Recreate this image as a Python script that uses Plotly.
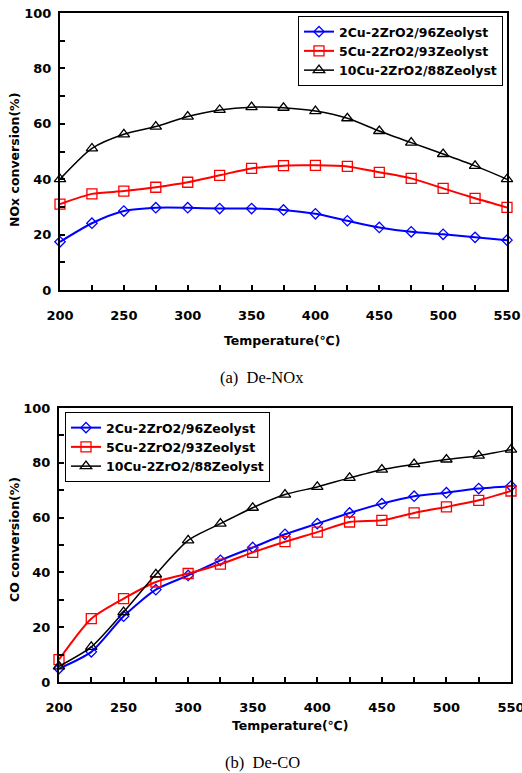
import plotly.graph_objects as go

temps = [200, 225, 250, 275, 300, 325, 350, 375, 400, 425, 450, 475, 500, 525, 550]
series_names = ["2Cu-2ZrO2/96Zeolyst", "5Cu-2ZrO2/93Zeolyst", "10Cu-2ZrO2/88Zeolyst"]

nox_2cu = [17.4, 24.1, 28.5, 29.7, 29.7, 29.4, 29.4, 28.9, 27.5, 25.0, 22.6, 21.0, 20.1, 19.0, 18.0]
nox_5cu = [31.0, 34.7, 35.7, 37.1, 38.9, 41.4, 43.9, 44.9, 45.0, 44.6, 42.5, 40.3, 36.7, 33.1, 29.8]
nox_10cu = [40.0, 51.1, 56.2, 59.0, 62.6, 65.0, 66.0, 65.8, 64.6, 62.0, 57.4, 53.2, 49.1, 44.8, 40.0]

co_2cu = [4.9, 11.0, 24.0, 33.7, 38.9, 44.4, 49.1, 53.9, 57.8, 61.7, 65.1, 67.8, 69.1, 70.6, 71.5]
co_5cu = [8.2, 23.1, 30.4, 36.5, 39.6, 43.0, 47.3, 51.2, 54.7, 58.4, 59.0, 61.7, 63.9, 66.3, 69.7]
co_10cu = [5.7, 12.8, 25.5, 39.3, 51.7, 57.8, 63.6, 68.4, 71.2, 74.5, 77.5, 79.5, 81.2, 82.6, 84.8]

x_tickvals = list(range(200, 551, 25))
x_ticktext = [str(v) if v % 50 == 0 else "" for v in x_tickvals]
y_tickvals = list(range(0, 101, 10))
y_ticktext = [str(v) if v % 20 == 0 else "" for v in y_tickvals]

styles = [
    dict(color="#0000ff", symbol="diamond-open", size=8, width=2),
    dict(color="#ff0000", symbol="square-open", size=10, width=2),
    dict(color="#000000", symbol="triangle-up-open", size=10, width=1.5),
]

FONT = "DejaVu Sans, Liberation Sans, Arial, sans-serif"
fig = go.Figure()

def add_series(ys_list, xa, ya, legend):
    for name, ys, st in zip(series_names, ys_list, styles):
        fig.add_trace(go.Scatter(
            x=temps, y=ys, name=name, mode="lines+markers",
            xaxis=xa, yaxis=ya, legend=legend, cliponaxis=False,
            line=dict(color=st["color"], width=st["width"], shape="spline", smoothing=0.7),
            marker=dict(symbol=st["symbol"], size=st["size"], color=st["color"],
                        line=dict(color=st["color"], width=1.3)),
        ))

add_series([nox_2cu, nox_5cu, nox_10cu], "x", "y", "legend")
add_series([co_2cu, co_5cu, co_10cu], "x2", "y2", "legend2")

W, H = 522, 773
def dom_x(a, b):
    return [a / W, b / W]
def dom_y(top, bottom):
    return [1 - bottom / H, 1 - top / H]

axis_common = dict(
    showline=True, linecolor="black", linewidth=2, mirror=True,
    ticks="inside", ticklen=5, tickwidth=1.5, tickcolor="black",
    showgrid=False, zeroline=False, automargin=False, ticklabeloverflow="allow",
    tickfont=dict(family=FONT, size=13, color="black", weight="bold"),
)

legend_font = dict(family=FONT, size=12.5, color="black", weight="bold")

fig.update_layout(
    width=W, height=H,
    margin=dict(l=0, r=0, t=0, b=0, pad=0),
    paper_bgcolor="white", plot_bgcolor="white",
    xaxis=dict(domain=dom_x(60, 507), range=[200, 550], anchor="y",
               tickvals=x_tickvals, ticktext=x_ticktext, ticklabelstandoff=12, **axis_common),
    yaxis=dict(domain=dom_y(13, 290), range=[0, 100], anchor="x",
               tickvals=y_tickvals, ticktext=y_ticktext, ticklabelstandoff=4, **axis_common),
    xaxis2=dict(domain=dom_x(59, 511), range=[200, 550], anchor="y2",
                tickvals=x_tickvals, ticktext=x_ticktext, ticklabelstandoff=12, **axis_common),
    yaxis2=dict(domain=dom_y(408, 682), range=[0, 100], anchor="x2",
                tickvals=y_tickvals, ticktext=y_ticktext, ticklabelstandoff=4, **axis_common),
    legend=dict(x=503 / W, y=1 - 16 / H, xanchor="right", yanchor="top",
                bordercolor="black", borderwidth=1, bgcolor="white",
                font=legend_font, tracegroupgap=0, itemwidth=30),
    legend2=dict(x=65 / W, y=1 - 412 / H, xanchor="left", yanchor="top",
                 bordercolor="black", borderwidth=1, bgcolor="white",
                 font=legend_font, tracegroupgap=0, itemwidth=30),
)

bold = dict(family=FONT, size=12.5, color="black", weight="bold")
serif = dict(family="Liberation Serif, Times New Roman, serif", size=16.5, color="black")
annots = [
    dict(text="Temperature(℃)", x=282 / W, y=1 - 340 / H, font=bold),
    dict(text="Temperature(℃)", x=290 / W, y=1 - 725 / H, font=bold),
    dict(text="NOx conversion(%)", x=14 / W, y=1 - 160 / H, font=bold, textangle=-90),
    dict(text="CO conversion(%)", x=14 / W, y=1 - 540 / H, font=bold, textangle=-90),
    dict(text="(a)  De-NOx", x=262 / W, y=1 - 377 / H, font=serif),
    dict(text="(b)  De-CO", x=262 / W, y=1 - 762 / H, font=serif),
]
for a in annots:
    fig.add_annotation(xref="paper", yref="paper", showarrow=False,
                       xanchor="center", yanchor="middle", **a)

fig.write_html("out.html", config={"displayModeBar": False},
               post_script="document.body.style.margin='0px';document.body.style.overflow='hidden';")
